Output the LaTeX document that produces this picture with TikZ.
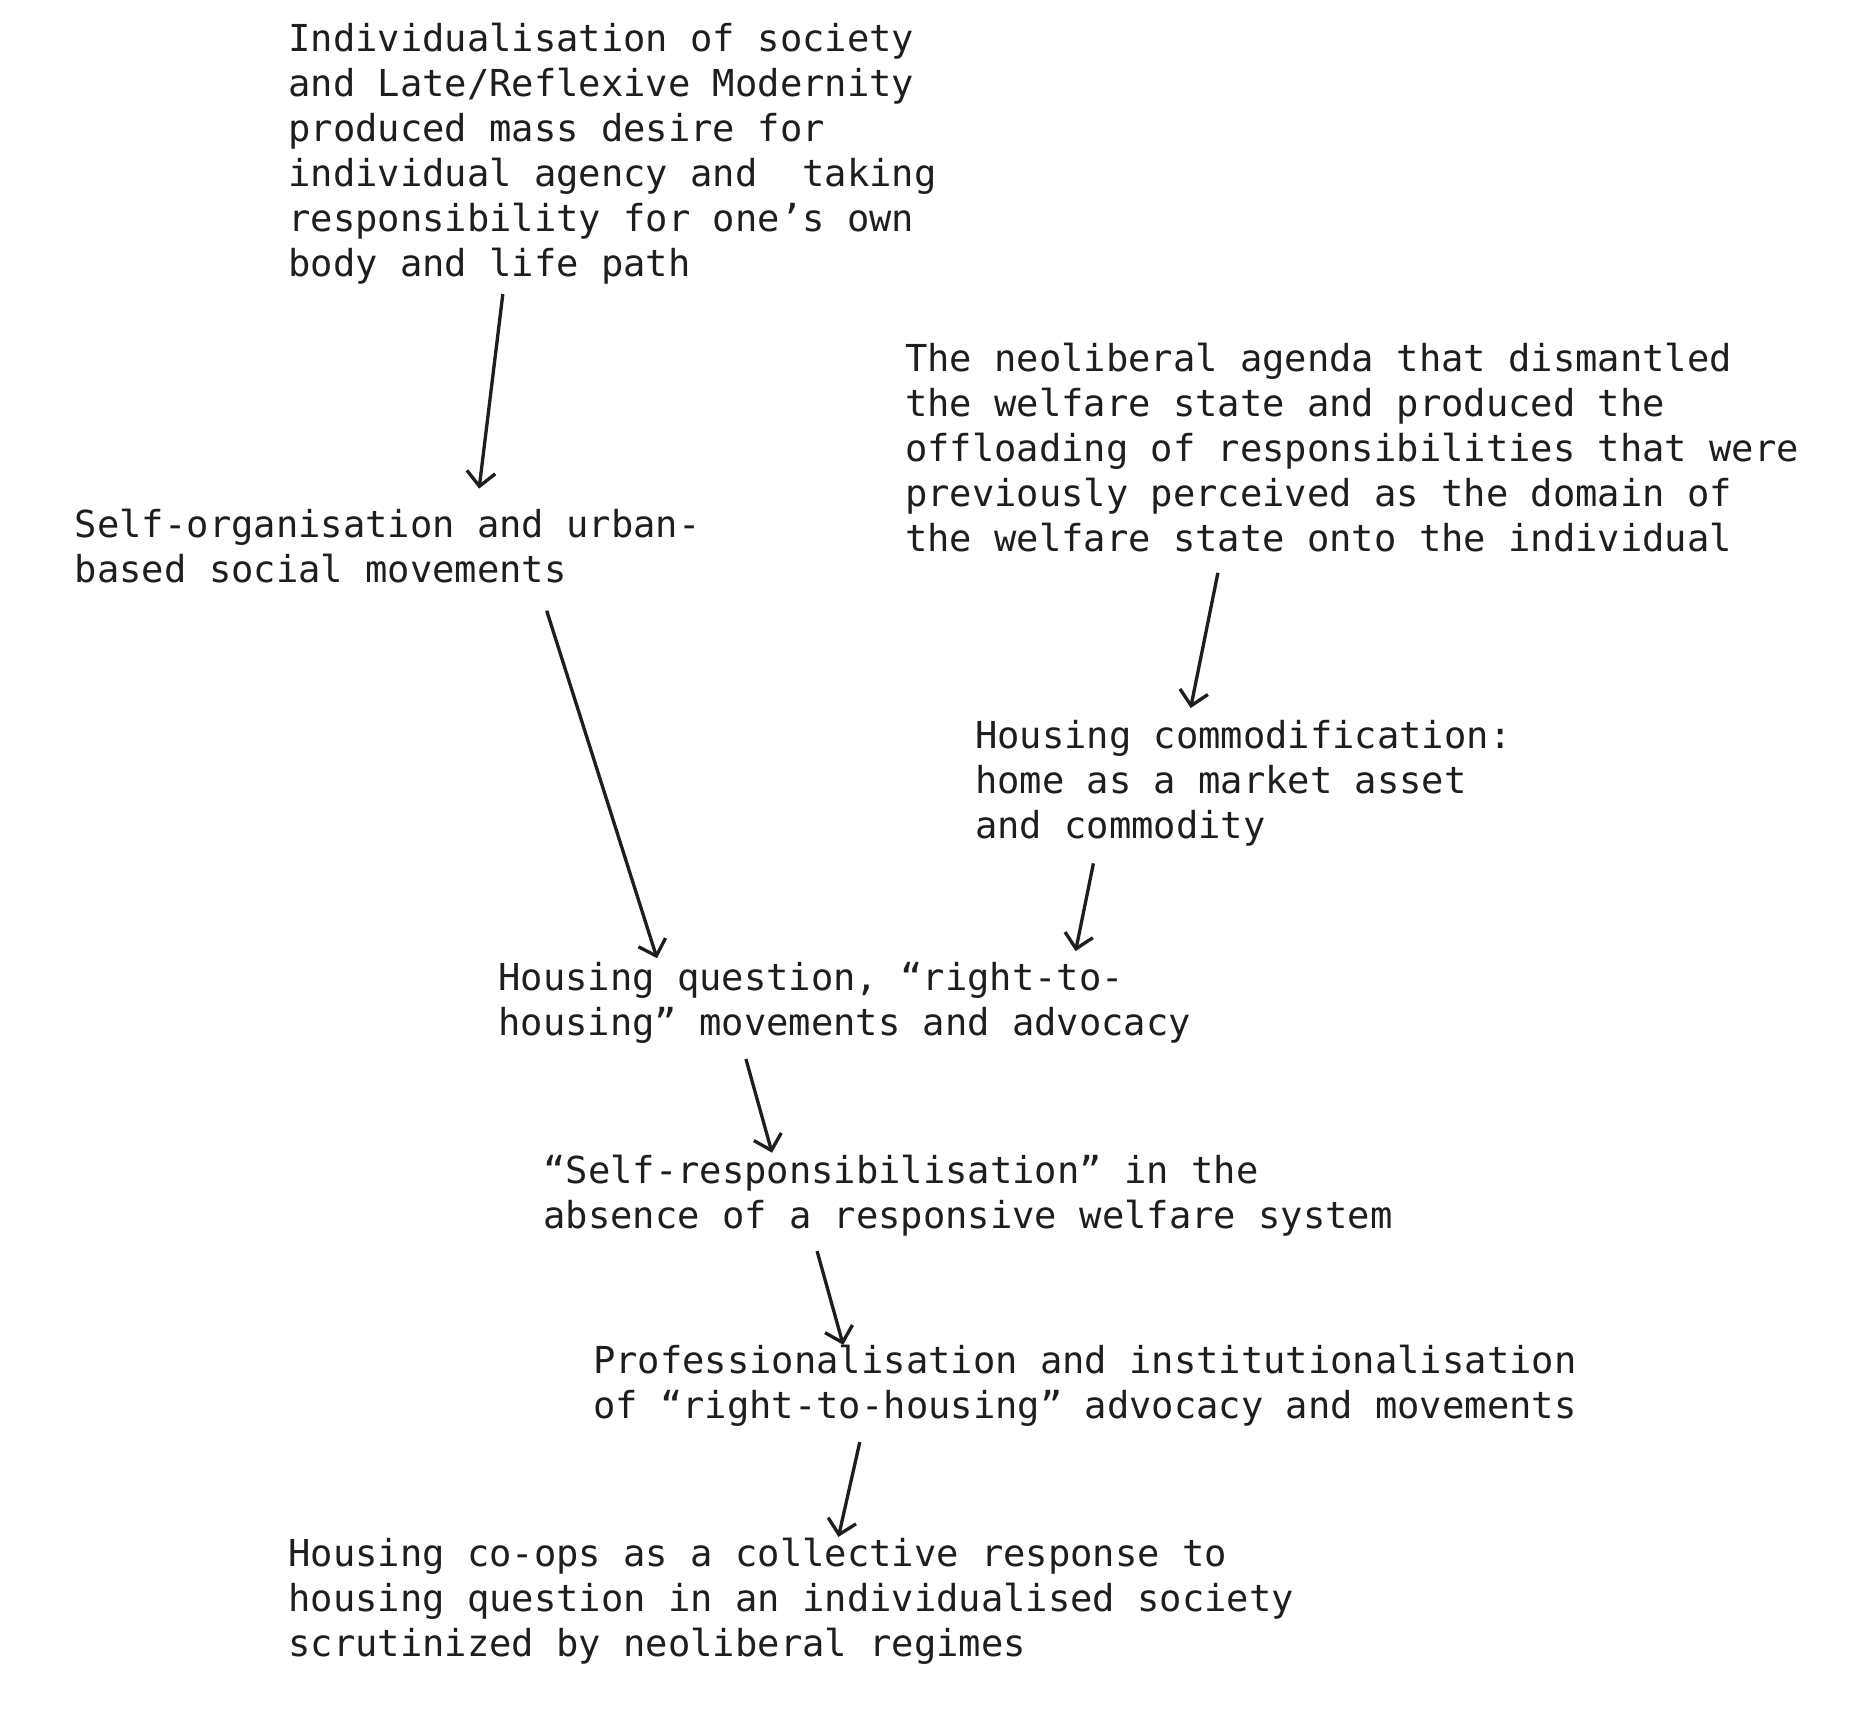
\documentclass[tikz,border=0pt]{standalone}
\usepackage{fontspec}
\usetikzlibrary{arrows.meta}
\newfontfamily\diagmono{DejaVu Sans Mono}
\definecolor{ink}{HTML}{1E1E1E}
\begin{document}
\begin{tikzpicture}[x=1pt,y=-1pt,
  txt/.style={anchor=base west,inner sep=0pt,align=left,text=ink,
    font=\diagmono\fontsize{31.3}{38}\selectfont},
  arr/.style={draw=ink,line width=2.8pt,
    -{Straight Barb[length=12pt,width=24pt,line width=2.8pt]}}]
\useasboundingbox[fill=white] (0,0) rectangle (1560,1443.6);

% base west = baseline of the last line
\node[txt] (a) at (243,233) {Individualisation of society\\and Late/Reflexive Modernity\\produced mass desire for\\individual agency and~ taking\\responsibility for one’s own\\body and life path};
\node[txt] (b) at (63,491) {Self-organisation and urban-\\based social movements};
\node[txt] (c) at (763,465) {The neoliberal agenda that dismantled\\the welfare state and produced the\\offloading of responsibilities that were\\previously perceived as the domain of\\the welfare state onto the individual};
\node[txt] (d) at (822,707) {Housing commodification:\\home as a market asset\\and commodity};
\node[txt] (e) at (420,873) {Housing question, “right-to-\\housing” movements and advocacy};
\node[txt] (f) at (458,1036) {“Self-responsibilisation” in the\\absence of a responsive welfare system};
\node[txt] (g) at (500,1196) {Professionalisation and institutionalisation\\of “right-to-housing” advocacy and movements};
\node[txt] (h) at (243,1397) {Housing co-ops as a collective response to\\housing question in an individualised society\\scrutinized by neoliberal regimes};

\draw[arr] ([shift={(181,15)}]a.base west) -- ([shift={(341,-79)}]b.base west);
\draw[arr] ([shift={(398,24)}]b.base west) -- ([shift={(134,-65)}]e.base west);
\draw[arr] ([shift={(264,18)}]c.base west) -- ([shift={(182,-110)}]d.base west);
\draw[arr] ([shift={(100,21)}]d.base west) -- ([shift={(487,-71)}]e.base west);
\draw[arr] ([shift={(209,20)}]e.base west) -- ([shift={(193,-64)}]f.base west);
\draw[arr] ([shift={(231,19)}]f.base west) -- ([shift={(211,-62)}]g.base west);
\draw[arr] ([shift={(225,20)}]g.base west) -- ([shift={(464,-101)}]h.base west);
\end{tikzpicture}
\end{document}
